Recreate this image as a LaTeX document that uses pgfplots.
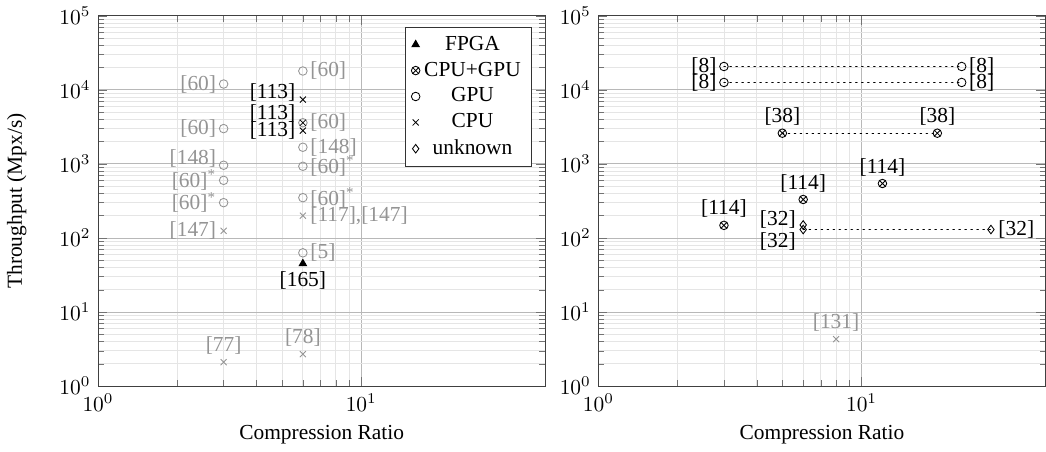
\documentclass[border=0pt]{standalone}
\usepackage{fontspec}
\setmainfont{Liberation Serif}
\usepackage{pgfplots}
\pgfplotsset{compat=1.18}
\usetikzlibrary{plotmarks}
\colorlet{lg}{black!42}
\tikzset{dline/.style={line width=0.6pt, dash pattern=on 0.6pt off 2.2pt, line cap=round}}
\begin{document}
\begin{tikzpicture}
% ---------------- left axis ----------------
\begin{axis}[xmode=log, ymode=log, xmin=1, xmax=50, ymin=1, ymax=100000,
    width=209pt, height=173pt, scale only axis,
    grid=both, major grid style={black!28}, minor grid style={black!10},
    axis line style={black!75}, tick style={black!55},
    xtick={1,10}, ytick={1,10,100,1000,10000,100000},
    xlabel={Compression Ratio}, clip=false,
  name=leftax, ylabel={Throughput (Mpx/s)}, ylabel shift=8.5pt,
  legend pos=north east, legend cell align=center,
  legend style={draw=black!80}]
\addlegendimage{only marks, mark=triangle*, black}
\addlegendentry{FPGA}
\addlegendimage{only marks, mark=otimes, black}
\addlegendentry{CPU+GPU}
\addlegendimage{only marks, mark=o, black}
\addlegendentry{GPU}
\addlegendimage{only marks, mark=x, black}
\addlegendentry{CPU}
\addlegendimage{only marks, mark=diamond, black}
\addlegendentry{unknown}
% GPU gray
\addplot[only marks, mark=o, lg, forget plot] coordinates {
 (3,12000) (3,3000) (3,960) (3,600) (3,300)
 (6,18000) (6,3600) (6,1680) (6,930) (6,350) (6,63)};
% CPU gray
\addplot[only marks, mark=x, lg, forget plot] coordinates {
 (3,125) (3,2.1) (6,200) (6,2.7)};
% CPU black
\addplot[only marks, mark=x, black, forget plot] coordinates {
 (6,7400) (6,3600) (6,2820)};
% FPGA
\addplot[only marks, mark=triangle*, black, forget plot] coordinates {(6,45)};
% labels
\node[lg, left] at (axis cs:3,12000) {[60]};
\node[lg, left] at (axis cs:3,3000) {[60]};
\node[lg, left, yshift=3pt] at (axis cs:3,960) {[148]};
\node[lg, left] at (axis cs:3,600) {[60]\textsuperscript{*}};
\node[lg, left] at (axis cs:3,300) {[60]\textsuperscript{*}};
\node[lg, left] at (axis cs:3,125) {[147]};
\node[lg, above] at (axis cs:3,2.1) {[77]};
\node[lg, above] at (axis cs:6,2.7) {[78]};
\node[black, below] at (axis cs:6,45) {[165]};
\node[lg, right] at (axis cs:6,63) {[5]};
\node[lg, right] at (axis cs:6,200) {[117],[147]};
\node[lg, right] at (axis cs:6,350) {[60]\textsuperscript{*}};
\node[lg, right] at (axis cs:6,930) {[60]\textsuperscript{*}};
\node[lg, right] at (axis cs:6,1680) {[148]};
\node[lg, right] at (axis cs:6,3600) {[60]};
\node[lg, right] at (axis cs:6,18000) {[60]};
\node[black, left, yshift=3.5pt] at (axis cs:6,7400) {[113]};
\node[black, left, yshift=4.5pt] at (axis cs:6,3600) {[113]};
\node[black, left] at (axis cs:6,2820) {[113]};
\end{axis}
% ---------------- right axis ----------------
\begin{axis}[xmode=log, ymode=log, xmin=1, xmax=50, ymin=1, ymax=100000,
    width=209pt, height=173pt, scale only axis,
    grid=both, major grid style={black!28}, minor grid style={black!10},
    axis line style={black!75}, tick style={black!55},
    xtick={1,10}, ytick={1,10,100,1000,10000,100000},
    xlabel={Compression Ratio}, clip=false,
    at={(leftax.south east)}, anchor=south west, xshift=24.8pt]
\addplot[dline, black, mark=o, mark options={solid, line width=0.4pt}] coordinates {(3,20700) (24,20700)};
\addplot[dline, black, mark=o, mark options={solid, line width=0.4pt}] coordinates {(3,12600) (24,12600)};
\addplot[dline, black, mark=otimes, mark options={solid, line width=0.4pt}] coordinates {(5,2600) (19.4,2600)};
\addplot[only marks, black, mark=otimes] coordinates {(3,148) (6,331) (12,544)};
\addplot[only marks, black, mark=diamond] coordinates {(6,150)};
\addplot[dline, black, mark=diamond, mark options={solid, line width=0.4pt}] coordinates {(6,130) (31,130)};
\addplot[only marks, lg, mark=x] coordinates {(8,4.3)};
\node[left] at (axis cs:3,20700) {[8]};
\node[right] at (axis cs:24,20700) {[8]};
\node[left] at (axis cs:3,12600) {[8]};
\node[right] at (axis cs:24,12600) {[8]};
\node[above] at (axis cs:5,2600) {[38]};
\node[above] at (axis cs:19.4,2600) {[38]};
\node[above] at (axis cs:3,148) {[114]};
\node[above] at (axis cs:6,331) {[114]};
\node[above] at (axis cs:12,544) {[114]};
\node[left, yshift=2.3pt] at (axis cs:6,150) {[32]};
\node[left, yshift=-5.8pt] at (axis cs:6,130) {[32]};
\node[right] at (axis cs:31,130) {[32]};
\node[lg, above] at (axis cs:8,4.3) {[131]};
\end{axis}
\end{tikzpicture}
\end{document}
